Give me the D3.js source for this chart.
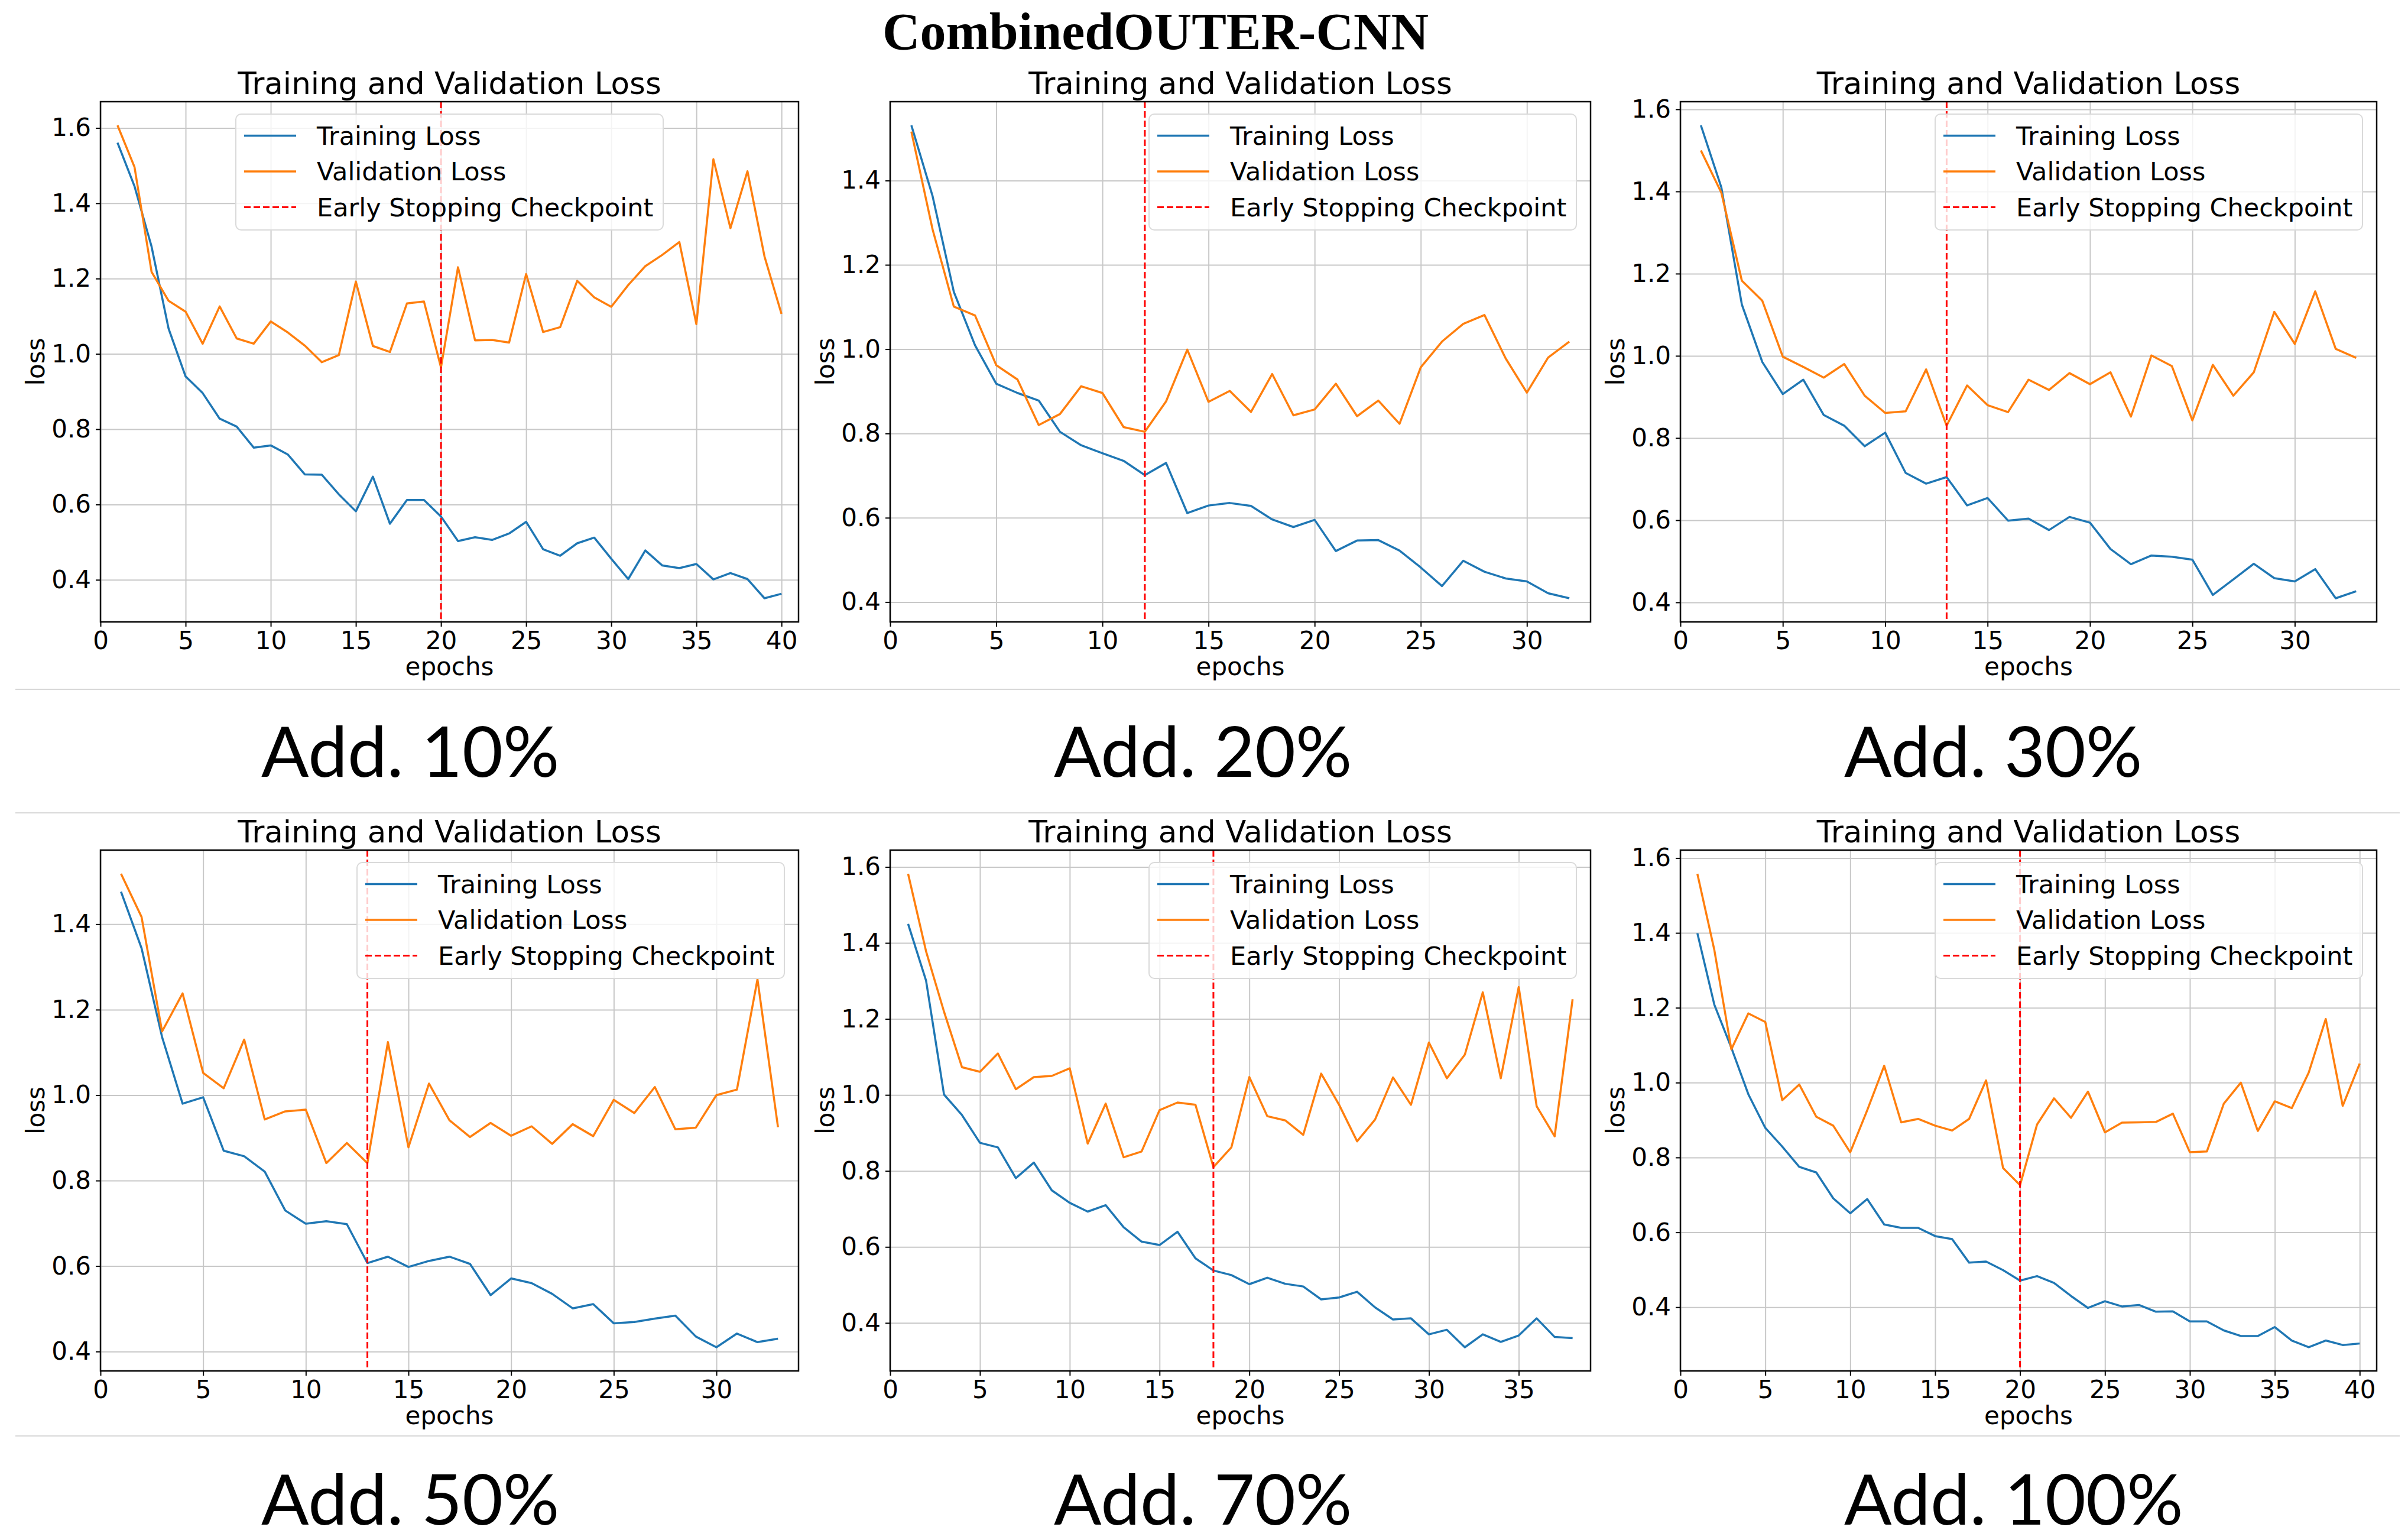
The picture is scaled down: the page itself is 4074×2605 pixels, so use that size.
<!DOCTYPE html>
<html>
<head>
<meta charset="utf-8">
<script src="https://cdn.jsdelivr.net/npm/d3@7/dist/d3.min.js"></script>
<style>
  html, body { margin: 0; padding: 0; background: #fff; }
  svg { display: block; }
</style>
</head>
<body>
<svg id="chart" width="4074" height="2605"></svg>
<script>
// ---------------- DATA ----------------
const suptitle = "CombinedOUTER-CNN";
const panelTitle = "Training and Validation Loss";
const panelLabels = ["Add. 10%", "Add. 20%", "Add. 30%", "Add. 50%", "Add. 70%", "Add. 100%"];
const legendLabels = ["Training Loss", "Validation Loss", "Early Stopping Checkpoint"];
const stopEpochs = [20, 12, 13, 13, 18, 20];
const legendLoc = ["upper center", "upper right", "upper right", "upper right", "upper right", "upper right"];

const train10 = [1.561,1.445,1.285,1.067,0.940,0.896,0.828,0.807,0.751,0.757,0.733,0.680,0.679,0.627,0.582,0.674,0.549,0.612,0.612,0.568,0.503,0.513,0.506,0.523,0.554,0.481,0.464,0.497,0.512,0.456,0.402,0.478,0.438,0.431,0.442,0.401,0.418,0.402,0.351,0.363];
const val10   = [1.607,1.496,1.218,1.141,1.112,1.027,1.126,1.041,1.027,1.086,1.057,1.022,0.978,0.997,1.192,1.021,1.005,1.134,1.139,0.964,1.230,1.036,1.037,1.030,1.212,1.058,1.071,1.194,1.150,1.125,1.183,1.233,1.263,1.297,1.079,1.517,1.334,1.485,1.259,1.106];

const train20 = [1.531,1.363,1.136,1.009,0.918,0.896,0.878,0.804,0.772,0.753,0.735,0.701,0.730,0.611,0.629,0.635,0.628,0.596,0.578,0.595,0.521,0.546,0.547,0.522,0.482,0.438,0.498,0.472,0.456,0.449,0.421,0.409];
const val20   = [1.516,1.284,1.101,1.080,0.962,0.928,0.820,0.846,0.912,0.896,0.815,0.804,0.876,0.999,0.875,0.901,0.851,0.941,0.843,0.857,0.918,0.841,0.878,0.823,0.957,1.018,1.060,1.081,0.978,0.897,0.980,1.018];

const train30 = [1.561,1.410,1.125,0.985,0.907,0.942,0.856,0.830,0.780,0.813,0.715,0.689,0.705,0.636,0.654,0.599,0.604,0.576,0.608,0.594,0.530,0.493,0.514,0.511,0.504,0.418,0.456,0.494,0.459,0.451,0.481,0.410,0.427];
const val30   = [1.500,1.397,1.183,1.134,0.998,0.973,0.947,0.980,0.903,0.861,0.865,0.967,0.830,0.928,0.880,0.863,0.942,0.917,0.958,0.931,0.960,0.852,1.001,0.975,0.843,0.978,0.903,0.960,1.107,1.029,1.157,1.017,0.995];

const train50 = [1.476,1.344,1.136,0.980,0.995,0.870,0.857,0.821,0.730,0.699,0.705,0.698,0.607,0.622,0.598,0.612,0.622,0.605,0.532,0.571,0.560,0.535,0.501,0.511,0.466,0.469,0.477,0.484,0.435,0.410,0.442,0.422,0.430];
const val50   = [1.518,1.417,1.149,1.238,1.052,1.016,1.130,0.943,0.962,0.966,0.841,0.888,0.841,1.124,0.878,1.027,0.941,0.902,0.935,0.905,0.927,0.886,0.932,0.904,0.989,0.958,1.019,0.920,0.924,1.000,1.013,1.271,0.925];

const train70 = [1.450,1.301,1.001,0.947,0.874,0.862,0.781,0.822,0.749,0.716,0.693,0.710,0.652,0.614,0.605,0.640,0.570,0.538,0.526,0.502,0.519,0.503,0.496,0.462,0.467,0.482,0.441,0.409,0.412,0.370,0.382,0.336,0.370,0.350,0.367,0.412,0.363,0.360];
const val70   = [1.582,1.378,1.219,1.073,1.061,1.109,1.015,1.047,1.050,1.070,0.872,0.977,0.836,0.851,0.960,0.980,0.974,0.810,0.862,1.047,0.944,0.933,0.895,1.056,0.974,0.878,0.935,1.046,0.974,1.138,1.044,1.106,1.270,1.044,1.284,0.970,0.891,1.252];

const train100 = [1.399,1.208,1.093,0.969,0.879,0.829,0.775,0.760,0.691,0.651,0.689,0.621,0.612,0.612,0.590,0.582,0.519,0.522,0.499,0.471,0.483,0.465,0.430,0.398,0.416,0.402,0.406,0.388,0.389,0.362,0.362,0.338,0.323,0.323,0.347,0.311,0.293,0.311,0.299,0.303];
const val100   = [1.558,1.354,1.089,1.185,1.162,0.953,0.995,0.909,0.885,0.814,0.926,1.045,0.894,0.903,0.885,0.872,0.903,1.006,0.772,0.726,0.888,0.958,0.906,0.976,0.867,0.893,0.894,0.895,0.917,0.814,0.816,0.944,1.000,0.871,0.950,0.932,1.027,1.170,0.938,1.051];

const trainSeries = [train10, train20, train30, train50, train70, train100];
const valSeries   = [val10, val20, val30, val50, val70, val100];

const xTickSets = [
  [0,5,10,15,20,25,30,35,40],
  [0,5,10,15,20,25,30],
  [0,5,10,15,20,25,30],
  [0,5,10,15,20,25,30],
  [0,5,10,15,20,25,30,35],
  [0,5,10,15,20,25,30,35,40]
];
const yTickSets = [
  [0.4,0.6,0.8,1.0,1.2,1.4,1.6],
  [0.4,0.6,0.8,1.0,1.2,1.4],
  [0.4,0.6,0.8,1.0,1.2,1.4,1.6],
  [0.4,0.6,0.8,1.0,1.2,1.4],
  [0.4,0.6,0.8,1.0,1.2,1.4,1.6],
  [0.4,0.6,0.8,1.0,1.2,1.4,1.6]
];

// ---------------- LAYOUT ----------------
const cols = [[170, 1351], [1506, 2691], [2843, 4021]];
const rows = [[172, 1052], [1438, 2319]];
const labelX = [442, 1783, 3120];
const labelBaseline = [1314, 2579];
const separators = [1166, 1375, 2429];

const C_BLUE = "#1f77b4", C_ORANGE = "#ff7f0e", C_RED = "#ff0000";
const FONT = "'DejaVu Sans', sans-serif";
const TICK_FS = 42, LEGEND_FS = 43, TITLE_FS = 51.5;

const svg = d3.select("#chart");

// suptitle
svg.append("text")
  .attr("x", 1955).attr("y", 83)
  .attr("text-anchor", "middle")
  .attr("font-family", "'Liberation Serif', 'Times New Roman', serif")
  .attr("font-weight", "bold")
  .attr("font-size", 88)
  .attr("fill", "#000")
  .text(suptitle);

// faint separators
separators.forEach(y => {
  svg.append("line")
    .attr("x1", 26).attr("x2", 4060)
    .attr("y1", y).attr("y2", y)
    .attr("stroke", "#d8d8d8").attr("stroke-width", 2);
});

trainSeries.forEach((train, i) => {
  const val = valSeries[i];
  const [x0, x1] = cols[i % 3];
  const [y0, y1] = rows[Math.floor(i / 3)];
  const n = train.length;
  const epochs = d3.range(1, n + 1);

  const all = train.concat(val);
  const [mn, mx] = d3.extent(all);
  const pad = 0.05 * (mx - mn);

  const x = d3.scaleLinear().domain([0, n + 1]).range([x0, x1]);
  const y = d3.scaleLinear().domain([mn - pad, mx + pad]).range([y1, y0]);

  const g = svg.append("g");

  // grid
  g.append("g")
    .attr("transform", `translate(0,${y1})`)
    .call(d3.axisBottom(x).tickValues(xTickSets[i]).tickSize(-(y1 - y0)).tickFormat(""))
    .call(s => s.select(".domain").remove())
    .call(s => s.selectAll("line").attr("stroke", "#c8c8c8").attr("stroke-width", 2));
  g.append("g")
    .attr("transform", `translate(${x0},0)`)
    .call(d3.axisLeft(y).tickValues(yTickSets[i]).tickSize(-(x1 - x0)).tickFormat(""))
    .call(s => s.select(".domain").remove())
    .call(s => s.selectAll("line").attr("stroke", "#c8c8c8").attr("stroke-width", 2));

  // series
  const line = d3.line().x((d, k) => x(epochs[k])).y(d => y(d));
  g.append("path").datum(train)
    .attr("d", line).attr("fill", "none")
    .attr("stroke", C_BLUE).attr("stroke-width", 3.5).attr("stroke-linejoin", "round");
  g.append("path").datum(val)
    .attr("d", line).attr("fill", "none")
    .attr("stroke", C_ORANGE).attr("stroke-width", 3.5).attr("stroke-linejoin", "round");

  // early stopping line
  g.append("line")
    .attr("x1", x(stopEpochs[i])).attr("x2", x(stopEpochs[i]))
    .attr("y1", y0).attr("y2", y1)
    .attr("stroke", C_RED).attr("stroke-width", 3)
    .attr("stroke-dasharray", "11,5");

  // axes with ticks & labels
  const xa = g.append("g")
    .attr("transform", `translate(0,${y1})`)
    .call(d3.axisBottom(x).tickValues(xTickSets[i]).tickSize(8).tickPadding(8).tickFormat(d3.format("d")));
  const ya = g.append("g")
    .attr("transform", `translate(${x0},0)`)
    .call(d3.axisLeft(y).tickValues(yTickSets[i]).tickSize(8).tickPadding(8).tickFormat(d3.format(".1f")));
  [xa, ya].forEach(a => {
    a.select(".domain").remove();
    a.selectAll("line").attr("stroke", "#000").attr("stroke-width", 2);
    a.selectAll("text").attr("font-family", FONT).attr("font-size", TICK_FS).attr("fill", "#000");
  });

  // frame
  g.append("rect")
    .attr("x", x0).attr("y", y0).attr("width", x1 - x0).attr("height", y1 - y0)
    .attr("fill", "none").attr("stroke", "#000").attr("stroke-width", 2.5);

  // titles and axis labels
  g.append("text")
    .attr("x", (x0 + x1) / 2).attr("y", y0 - 13)
    .attr("text-anchor", "middle")
    .attr("font-family", FONT).attr("font-size", TITLE_FS).attr("fill", "#000")
    .text(panelTitle);
  g.append("text")
    .attr("x", (x0 + x1) / 2).attr("y", y1 + 90)
    .attr("text-anchor", "middle")
    .attr("font-family", FONT).attr("font-size", TICK_FS).attr("fill", "#000")
    .text("epochs");
  g.append("text")
    .attr("transform", `translate(${x0 - 95},${(y0 + y1) / 2}) rotate(-90)`)
    .attr("text-anchor", "middle")
    .attr("font-family", FONT).attr("font-size", TICK_FS).attr("fill", "#000")
    .text("loss");

  // legend
  const LW = 723, LH = 196;
  const bx = legendLoc[i] === "upper center" ? (x0 + x1) / 2 - LW / 2 : x1 - 24 - LW;
  const by = y0 + 21;
  const lg = g.append("g").attr("transform", `translate(${bx},${by})`);
  lg.append("rect")
    .attr("width", LW).attr("height", LH).attr("rx", 9)
    .attr("fill", "#fff").attr("fill-opacity", 0.8)
    .attr("stroke", "#dadada").attr("stroke-width", 2);
  const styles = [
    { c: C_BLUE, dash: null, w: 3.5 },
    { c: C_ORANGE, dash: null, w: 3.5 },
    { c: C_RED, dash: "11,5", w: 3 }
  ];
  legendLabels.forEach((lab, k) => {
    const cy = 36.5 + k * 60.5;
    const ln = lg.append("line")
      .attr("x1", 14).attr("x2", 102).attr("y1", cy).attr("y2", cy)
      .attr("stroke", styles[k].c).attr("stroke-width", styles[k].w);
    if (styles[k].dash) ln.attr("stroke-dasharray", styles[k].dash);
    lg.append("text")
      .attr("x", 137).attr("y", cy + 15)
      .attr("font-family", FONT).attr("font-size", LEGEND_FS).attr("fill", "#000")
      .text(lab);
  });

  // big panel label
  svg.append("text")
    .attr("x", labelX[i % 3]).attr("y", labelBaseline[Math.floor(i / 3)])
    .attr("font-family", "Lato, 'Open Sans', sans-serif")
    .attr("font-size", 119).attr("fill", "#000")
    .text(panelLabels[i]);
});
</script>
</body>
</html>
